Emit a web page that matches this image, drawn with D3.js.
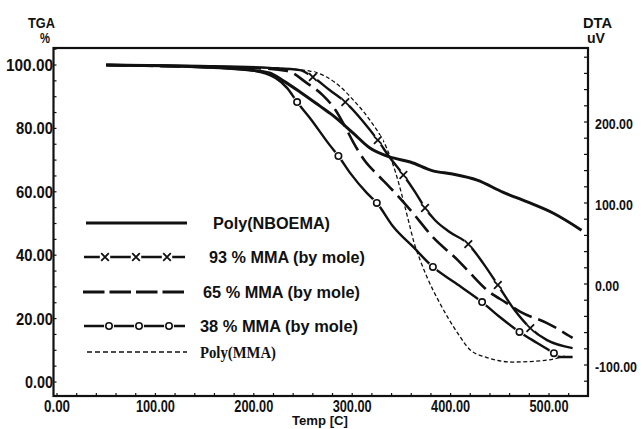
<!DOCTYPE html>
<html><head><meta charset="utf-8">
<script src="https://cdn.jsdelivr.net/npm/d3@7"></script>
<style>
html,body{margin:0;padding:0;background:#fff;}
svg{display:block;}
text{fill:#111;}
</style></head>
<body>
<svg id="chart" width="642" height="429"></svg>
<script>
// ---- data ----
const xTicks = [0, 100, 200, 300, 400, 500];
const xTickLabels = ["0.00", "100.00", "200.00", "300.00", "400.00", "500.00"];
const yLeftTicks = [0, 20, 40, 60, 80, 100];
const yLeftTickLabels = ["0.00", "20.00", "40.00", "60.00", "80.00", "100.00"];
const yRightTicks = [-100, 0, 100, 200];
const yRightTickLabels = ["-100.00", "0.00", "100.00", "200.00"];

const seriesNames = ["Poly(NBOEMA)", "93 % MMA (by mole)", "65 % MMA (by mole)", "38 % MMA (by mole)", "Poly(MMA)"];

const nboemaT   = [50,145,196,216,230,247,267,280,301,318,338,359,382,402,427,453,478,504,533];
const nboemaTGA = [100.0,99.4,98.4,97.5,95.0,91.5,87.1,84.2,78.5,73.8,71.0,69.4,66.6,65.6,63.7,59.9,56.8,53.3,47.9];

const mma93T   = [50,145,216,247,260,277,293,310,326,338,352,364,374,384,399,418,433,448,465,481,498,524];
const mma93TGA = [100,99.7,99.1,98.4,96.2,92.1,88.3,82.6,76.3,70.9,65.3,59.9,54.9,51.1,47.3,43.5,37.5,30.6,22.7,17.0,13.2,10.7];
const mma93MarkT   = [260,293,326,352,374,418,448,481];
const mma93MarkTGA = [96.2,88.3,76.3,65.3,54.9,43.5,30.6,17.0];

const mma65T   = [50,145,196,234,254,270,283,293,301,313,326,338,359,382,407,417,437,457,471,498,524];
const mma65TGA = [100,99.4,99.1,98.1,94.3,90.5,85.8,80.4,75.7,69.7,65.3,61.5,54.3,45.7,38.5,35.3,29.0,24.9,22.1,18.6,13.9];

const mma38T   = [50,145,196,222,234,244,257,277,286,298,315,325,342,362,382,405,432,450,470,488,505,511,524];
const mma38TGA = [100,99.4,98.4,95.9,92.7,88.3,83.3,74.8,71.3,65.9,59.6,56.5,48.9,42.6,36.3,31.2,25.2,20.5,15.8,12.3,9.1,7.9,7.9];
const mma38MarkT   = [244,286,325,382,432,470,505];
const mma38MarkTGA = [88.3,71.3,56.5,36.3,25.2,15.8,9.1];

const pmmaT   = [50,145,217,237,257,274,288,301,318,335,344,351,357,363,369,376,389,407,420,435,463,498,516];
const pmmaTGA = [100,99.4,99.1,98.7,98.1,96.2,93.1,89.0,82.6,73.8,66.2,58.4,51.1,43.8,38.5,33.1,24.9,15.5,10.1,7.9,6.3,6.9,8.2];

// ---- layout ----
const SANS = "'Liberation Sans', Arial, sans-serif";
const SERIF = "'Liberation Serif', 'Times New Roman', serif";
const svg = d3.select("#chart");
const frame = {left: 53.5, right: 588, top: 48, bottom: 396};
const x = d3.scaleLinear().domain([0, 500]).range([57, 549]);
const yL = d3.scaleLinear().domain([0, 100]).range([382, 65]);
const yR = d3.scaleLinear().domain([-100, 200]).range([365, 122]);
const ink = "#111";

// frame
svg.append("rect").attr("x", frame.left).attr("y", frame.top)
  .attr("width", frame.right - frame.left).attr("height", frame.bottom - frame.top)
  .attr("fill", "none").attr("stroke", ink).attr("stroke-width", 2.2);

// minor ticks
const g = svg.append("g").attr("stroke", ink).attr("stroke-width", 1.2);
d3.range(0, 105.1, 5).forEach(v => {
  g.append("line").attr("x1", frame.left).attr("x2", frame.left + 3).attr("y1", yL(v)).attr("y2", yL(v));
});
d3.range(-120, 281, 20).forEach(v => {
  const yy = yR(v); if (yy < frame.top + 3 || yy > frame.bottom - 3) return;
  g.append("line").attr("x1", frame.right - 4).attr("x2", frame.right).attr("y1", yy).attr("y2", yy);
});
d3.range(0, 541, 20).forEach(v => {
  const xx = x(v); if (xx > frame.right - 3) return;
  g.append("line").attr("x1", xx).attr("x2", xx).attr("y1", frame.bottom - 3).attr("y2", frame.bottom);
});

function txt(tx, ty, s, opts) {
  const t = svg.append("text").attr("x", tx).attr("y", ty)
    .attr("text-anchor", opts.anchor || "start")
    .style("font-family", opts.family || SANS)
    .style("font-size", opts.size + "px").style("font-weight", "bold").text(s);
  if (opts.len) t.attr("textLength", opts.len).attr("lengthAdjust", "spacingAndGlyphs");
  return t;
}

// tick labels
yLeftTicks.forEach((v, i) => {
  const s = yLeftTickLabels[i];
  txt(53, yL(v) + 6, s, {anchor: "end", size: 16, len: s.length === 6 ? 47 : (s.length === 5 ? 37 : 28)});
});
xTicks.forEach((v, i) => {
  const s = xTickLabels[i];
  txt(x(v), 412, s, {anchor: "middle", size: 16, len: s.length === 6 ? 39 : 26});
});
yRightTicks.forEach((v, i) => {
  const s = yRightTickLabels[i];
  svg.append("text").attr("x", 0).attr("y", 0)
    .attr("transform", `translate(595,${yR(v) + 6.5}) scale(0.8,1)`)
    .style("font-family", SANS).style("font-size", "15.5px").style("font-weight", "bold")
    .text(s);
});

// axis titles
txt(41.5, 28, "TGA", {anchor: "middle", size: 14, len: 27});
txt(45, 43, "%", {anchor: "middle", size: 14, len: 10});
txt(597.5, 28, "DTA", {anchor: "middle", size: 14, len: 29});
txt(596, 43, "uV", {anchor: "middle", size: 14, len: 18});
txt(320, 425, "Temp  [C]", {anchor: "middle", size: 12.5, len: 56});

// curves
const line = d3.line().x(d => x(d[0])).y(d => yL(d[1])).curve(d3.curveMonotoneX);
const zip = (a, b) => a.map((v, i) => [v, b[i]]);
const plot = svg.append("g").attr("fill", "none").attr("stroke", ink).attr("stroke-linejoin", "round");

plot.append("path").attr("d", line(zip(pmmaT, pmmaTGA)))
  .attr("stroke-width", 1.3).attr("stroke-dasharray", "4,2.5");
plot.append("path").attr("d", line(zip(mma65T, mma65TGA)))
  .attr("stroke-width", 2.6).attr("stroke-dasharray", "20,7");
plot.append("path").attr("d", line(zip(mma38T, mma38TGA)))
  .attr("stroke-width", 2.4);
plot.append("path").attr("d", line(zip(mma93T, mma93TGA)))
  .attr("stroke-width", 2.4);
plot.append("path").attr("d", line(zip(nboemaT, nboemaTGA)))
  .attr("stroke-width", 3);

function xMark(cx, cy, s) {
  svg.append("circle").attr("cx", cx).attr("cy", cy).attr("r", s + 1.5).attr("fill", "#fff");
  svg.append("path").attr("d", `M${cx - s},${cy - s}L${cx + s},${cy + s}M${cx + s},${cy - s}L${cx - s},${cy + s}`)
    .attr("stroke", ink).attr("stroke-width", 1.8).attr("fill", "none");
}
function oMark(cx, cy, r) {
  svg.append("circle").attr("cx", cx).attr("cy", cy).attr("r", r + 1.8).attr("fill", "#fff");
  svg.append("circle").attr("cx", cx).attr("cy", cy).attr("r", r)
    .attr("stroke", ink).attr("stroke-width", 1.6).attr("fill", "#fff");
}
mma93MarkT.forEach((t, i) => xMark(x(t), yL(mma93MarkTGA[i]), 3.8));
mma38MarkT.forEach((t, i) => oMark(x(t), yL(mma38MarkTGA[i]), 3.2));

// legend
const lg = svg.append("g");
const rows = [223, 257, 292, 326, 352];
const textX = [213, 209, 203, 200, 200];
lg.append("line").attr("x1", 86).attr("x2", 187).attr("y1", rows[0]).attr("y2", rows[0])
  .attr("stroke", ink).attr("stroke-width", 3);
lg.append("line").attr("x1", 84).attr("x2", 185).attr("y1", rows[1]).attr("y2", rows[1])
  .attr("stroke", ink).attr("stroke-width", 2.6);
lg.append("line").attr("x1", 83).attr("x2", 185).attr("y1", rows[2]).attr("y2", rows[2])
  .attr("stroke", ink).attr("stroke-width", 3).attr("stroke-dasharray", "21.5,5");
lg.append("line").attr("x1", 84).attr("x2", 185).attr("y1", rows[3]).attr("y2", rows[3])
  .attr("stroke", ink).attr("stroke-width", 2.6);
lg.append("line").attr("x1", 87).attr("x2", 187).attr("y1", rows[4]).attr("y2", rows[4])
  .attr("stroke", ink).attr("stroke-width", 1.3).attr("stroke-dasharray", "5,3");
[105, 136, 167].forEach(cx => xMark(cx, rows[1], 3.8));
[109, 139, 169].forEach(cx => oMark(cx, rows[3], 3.2));
const legLens = [117, 156, 157, 158, 76];
seriesNames.forEach((s, i) => {
  if (i === 4) txt(textX[i], rows[i] + 6, s, {family: SERIF, size: 17, len: legLens[i]});
  else txt(textX[i], rows[i] + 6, s, {size: 16, len: legLens[i]});
});
</script>
</body></html>
